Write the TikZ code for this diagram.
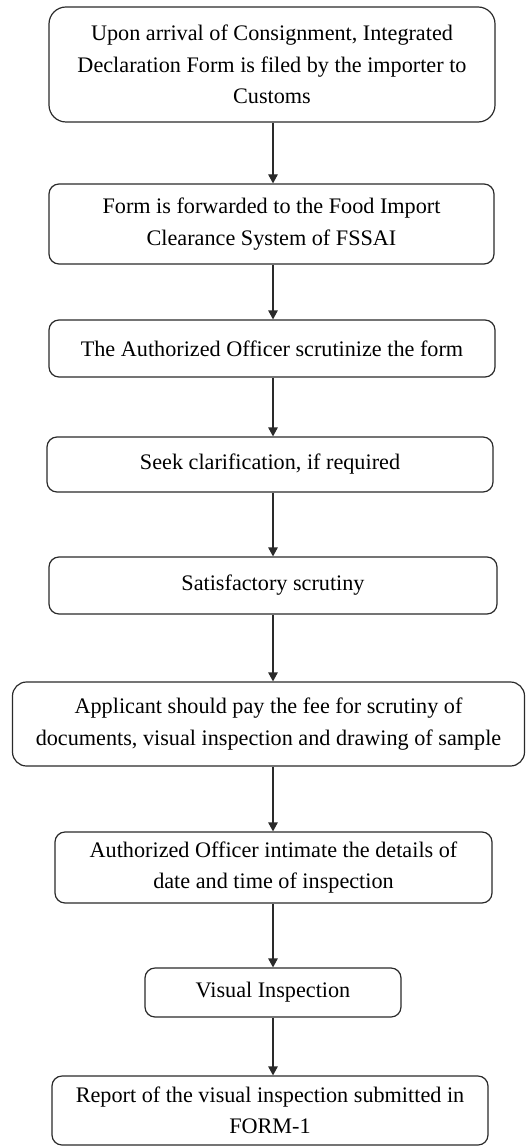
\documentclass[tikz,border=0pt]{standalone}
\usepackage{fontspec}
\setmainfont{Liberation Serif}
\usetikzlibrary{arrows.meta}
\definecolor{ink}{HTML}{2A2A2A}
\begin{document}
\begin{tikzpicture}[x=1pt,y=-1pt,
  stepbox/.style={draw=ink, line width=1.2pt, rounded corners=10pt, align=center,
    inner sep=0pt, text=black, font=\fontsize{22.2}{31.5}\selectfont},
  arr/.style={draw=ink, line width=1.2pt, -{Triangle[length=9pt,width=9.5pt]}}]
\useasboundingbox (0,0) rectangle (526,1147);
\node[stepbox, rounded corners=17pt, minimum width=446pt, minimum height=115pt] (b1) at (272,64.5)
  {Upon arrival of Consignment, Integrated\\Declaration Form is filed by the importer to\\Customs};
\node[stepbox, minimum width=445pt, minimum height=80pt] (b2) at (271.5,224)
  {Form is forwarded to the Food Import\\Clearance System of FSSAI};
\node[stepbox, minimum width=446pt, minimum height=57pt] (b3) at (272,348.5)
  {The Authorized Officer scrutinize the form};
\node[stepbox, minimum width=446pt, minimum height=55pt] (b4) at (270,464.5)
  {Seek clarification, if required};
\node[stepbox, minimum width=448pt, minimum height=57pt] (b5) at (273,585.5)
  {Satisfactory scrutiny};
\node[stepbox, rounded corners=14pt, minimum width=512pt, minimum height=84pt] (b6) at (268.5,724)
  {Applicant should pay the fee for scrutiny of\\documents, visual inspection and drawing of sample};
\node[stepbox, minimum width=437pt, minimum height=71pt] (b7) at (273.5,867.5)
  {Authorized Officer intimate the details of\\date and time of inspection};
\node[stepbox, minimum width=256pt, minimum height=49pt] (b8) at (273,992.5)
  {Visual Inspection};
\node[stepbox, minimum width=436pt, minimum height=69pt] (b9) at (270,1110.5)
  {Report of the visual inspection submitted in\\FORM-1};
\coordinate (ax) at (273,0);
\foreach \a/\b in {b1/b2,b2/b3,b3/b4,b4/b5,b5/b6,b6/b7,b7/b8,b8/b9}
  \draw[arr] (\a.south -| ax) -- (\b.north -| ax);
\end{tikzpicture}
\end{document}
